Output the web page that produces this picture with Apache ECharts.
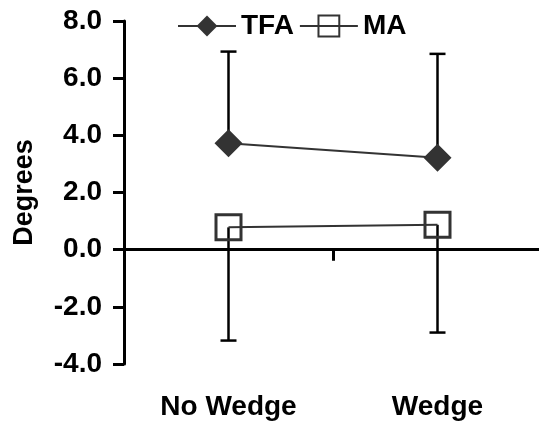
<!DOCTYPE html>
<html>
<head>
<meta charset="utf-8">
<script src="https://cdn.jsdelivr.net/npm/echarts@6/dist/echarts.min.js"></script>
<style>
html,body{margin:0;padding:0;background:#fff;overflow:hidden;}
#chart{width:545px;height:424px;}
</style>
</head>
<body>
<div id="chart"></div>
<script>
// ---- data ----
var categories = ['No Wedge', 'Wedge'];
var tfaMean = [3.72, 3.22];
var tfaUpper = [6.93, 6.85];
var maMean = [0.78, 0.87];
var maLower = [-3.18, -2.90];
var yTicks = [-4, -2, 0, 2, 4, 6, 8];

var FONT = '"Liberation Sans", Arial, sans-serif';
var chart = echarts.init(document.getElementById('chart'), null, {renderer: 'canvas'});

var errData = [];
categories.forEach(function (c, i) {
  errData.push([i, tfaMean[i], tfaUpper[i]]);
  errData.push([i, maMean[i], maLower[i]]);
});

function renderErr(params, api) {
  var x = api.value(0);
  var p0 = api.coord([x, api.value(1)]);
  var p1 = api.coord([x, api.value(2)]);
  var hw = 8;
  var st = {stroke: '#000', lineWidth: 2.5};
  return {
    type: 'group',
    children: [
      {type: 'line', shape: {x1: p0[0], y1: p0[1], x2: p1[0], y2: p1[1]}, style: st},
      {type: 'line', shape: {x1: p1[0] - hw, y1: p1[1], x2: p1[0] + hw, y2: p1[1]}, style: st}
    ]
  };
}

var option = {
  backgroundColor: '#fff',
  animation: false,
  textStyle: {fontFamily: FONT},
  grid: {left: 124, right: 3, top: 21, bottom: 60, containLabel: false},
  legend: {
    left: 172, top: 7,
    itemWidth: 58, itemHeight: 26, itemGap: 5,
    textStyle: {fontFamily: FONT, fontWeight: 'bold', fontSize: 28, color: '#000'},
    data: ['TFA', 'MA']
  },
  xAxis: [{
    type: 'category',
    data: categories,
    boundaryGap: true,
    axisLine: {show: true, onZero: true, lineStyle: {color: '#000', width: 3}},
    axisTick: {show: true, length: 11, lineStyle: {color: '#000', width: 3}},
    axisLabel: {show: false},
    splitLine: {show: false}
  }, {
    type: 'category',
    data: categories,
    position: 'bottom',
    boundaryGap: true,
    axisLine: {show: false, onZero: false},
    axisTick: {show: false},
    axisLabel: {show: true, margin: 29, fontFamily: FONT, fontWeight: 'bold', fontSize: 28, color: '#000'},
    splitLine: {show: false}
  }],
  yAxis: {
    type: 'value',
    min: yTicks[0], max: yTicks[yTicks.length - 1], interval: 2,
    name: 'Degrees',
    nameLocation: 'middle',
    nameGap: 86,
    nameRotate: 90,
    nameTextStyle: {fontFamily: FONT, fontWeight: 'bold', fontSize: 27, color: '#000'},
    axisLine: {show: true, onZero: false, lineStyle: {color: '#000', width: 3}},
    axisTick: {show: true, length: 11, lineStyle: {color: '#000', width: 3}},
    axisLabel: {margin: 22, fontFamily: FONT, fontWeight: 'bold', fontSize: 28, color: '#000',
      formatter: function (v) { return v.toFixed(1); }},
    splitLine: {show: false}
  },
  series: [{
    type: 'custom',
    name: 'err',
    xAxisIndex: 0,
    renderItem: renderErr,
    data: errData,
    z: 1,
    silent: true
  }, {
    type: 'line',
    name: 'TFA',
    xAxisIndex: 0,
    data: tfaMean,
    symbol: 'diamond',
    symbolSize: 28,
    itemStyle: {color: '#333333'},
    lineStyle: {color: '#333333', width: 2},
    z: 3
  }, {
    type: 'line',
    name: 'MA',
    xAxisIndex: 0,
    data: maMean,
    symbol: 'rect',
    symbolSize: 25,
    itemStyle: {color: 'none', borderColor: '#333333', borderWidth: 3},
    lineStyle: {color: '#333333', width: 2},
    z: 3
  }]
};
chart.setOption(option);
</script>
</body>
</html>
